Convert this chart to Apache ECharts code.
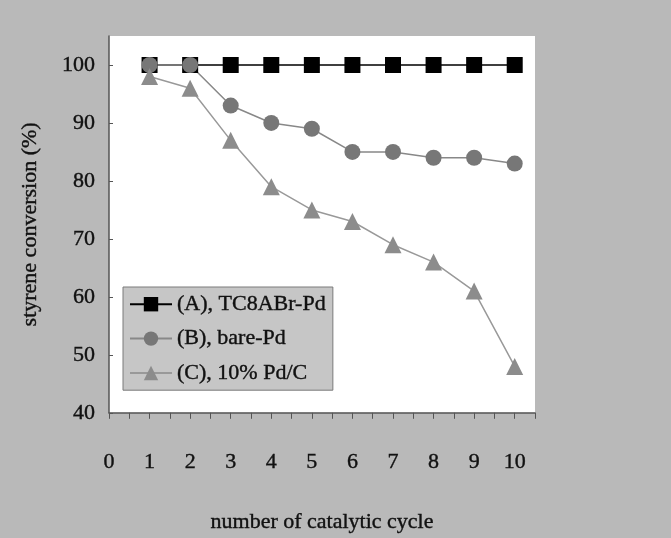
<!DOCTYPE html>
<html lang="en">
<head>
    <meta charset="UTF-8">
    <title>styrene conversion</title>
    <script src="https://cdn.jsdelivr.net/npm/echarts@6/dist/echarts.min.js"></script>
    <style>
        html, body { margin: 0; padding: 0; background: #b9b9b9; }
        #chart { width: 671px; height: 538px; }
    </style>
</head>
<body>
    <div id="chart"></div>
    <script>
        // data
        var cycles = [1, 2, 3, 4, 5, 6, 7, 8, 9, 10];
        var seriesNames = ['(A), TC8ABr-Pd', '(B), bare-Pd', '(C), 10% Pd/C'];
        var convA = [100, 100, 100, 100, 100, 100, 100, 100, 100, 100];
        var convB = [100, 100, 93, 90, 89, 85, 85, 84, 84, 83];
        var convC = [98, 96, 87, 79, 75, 73, 69, 66, 61, 48];

        var font = '"Liberation Serif", "DejaVu Serif", serif';
        // scanned text looks a bit heavier, so give it a thin outline
        var txt = { fontFamily: font, fontSize: 22, color: '#111', textBorderColor: '#111', textBorderWidth: 0.4 };

        function pairs(xs, ys) {
            return xs.map(function (x, i) { return [x, ys[i]]; });
        }

        var chart = echarts.init(document.getElementById('chart'));

        var option = {
            backgroundColor: '#b9b9b9',
            animation: false,
            grid: {
                left: 109, right: 136, top: 36, bottom: 122,
                show: true, backgroundColor: '#ffffff', borderWidth: 0
            },
            legend: {
                orient: 'vertical',
                left: 123,
                top: 287,
                backgroundColor: '#c6c6c6',
                borderColor: '#7a7a7a',
                borderWidth: 1,
                padding: [6, 7, 6, 6],
                itemGap: 12,
                itemWidth: 42,
                itemHeight: 18,
                textStyle: txt,
                data: seriesNames
            },
            xAxis: {
                type: 'value',
                min: 0,
                max: 10.5,
                interval: 0.5,
                name: 'number of catalytic cycle',
                nameLocation: 'middle',
                nameGap: 98,
                nameTextStyle: txt,
                axisLine: { lineStyle: { color: '#555', width: 1.5 } },
                axisTick: { inside: false, length: 6, lineStyle: { color: '#555' } },
                axisLabel: Object.assign({
                    margin: 38,
                    formatter: function (v) { return v % 1 === 0 ? String(v) : ''; }
                }, txt),
                splitLine: { show: false }
            },
            yAxis: {
                type: 'value',
                min: 40,
                max: 105,
                interval: 10,
                name: 'styrene conversion (%)',
                nameLocation: 'middle',
                nameGap: 68,
                nameTextStyle: txt,
                axisLine: { show: true, lineStyle: { color: '#555', width: 1.5 } },
                axisTick: { show: true, inside: true, length: 4, lineStyle: { color: '#555' } },
                axisLabel: Object.assign({
                    margin: 14,
                    showMaxLabel: false,
                    formatter: function (v) { return v % 10 === 0 ? String(v) : ''; }
                }, txt),
                splitLine: { show: false }
            },
            series: [
                {
                    name: seriesNames[0],
                    type: 'line',
                    data: pairs(cycles, convA),
                    symbol: 'rect',
                    symbolSize: 16,
                    itemStyle: { color: '#000' },
                    lineStyle: { color: '#000', width: 1.5 }
                },
                {
                    name: seriesNames[1],
                    type: 'line',
                    data: pairs(cycles, convB),
                    symbol: 'circle',
                    symbolSize: 16,
                    itemStyle: { color: '#777' },
                    lineStyle: { color: '#888', width: 1.5 }
                },
                {
                    name: seriesNames[2],
                    type: 'line',
                    data: pairs(cycles, convC),
                    symbol: 'triangle',
                    symbolSize: 17,
                    itemStyle: { color: '#8c8c8c' },
                    lineStyle: { color: '#999', width: 1.5 }
                }
            ]
        };

        chart.setOption(option);
    </script>
</body>
</html>
